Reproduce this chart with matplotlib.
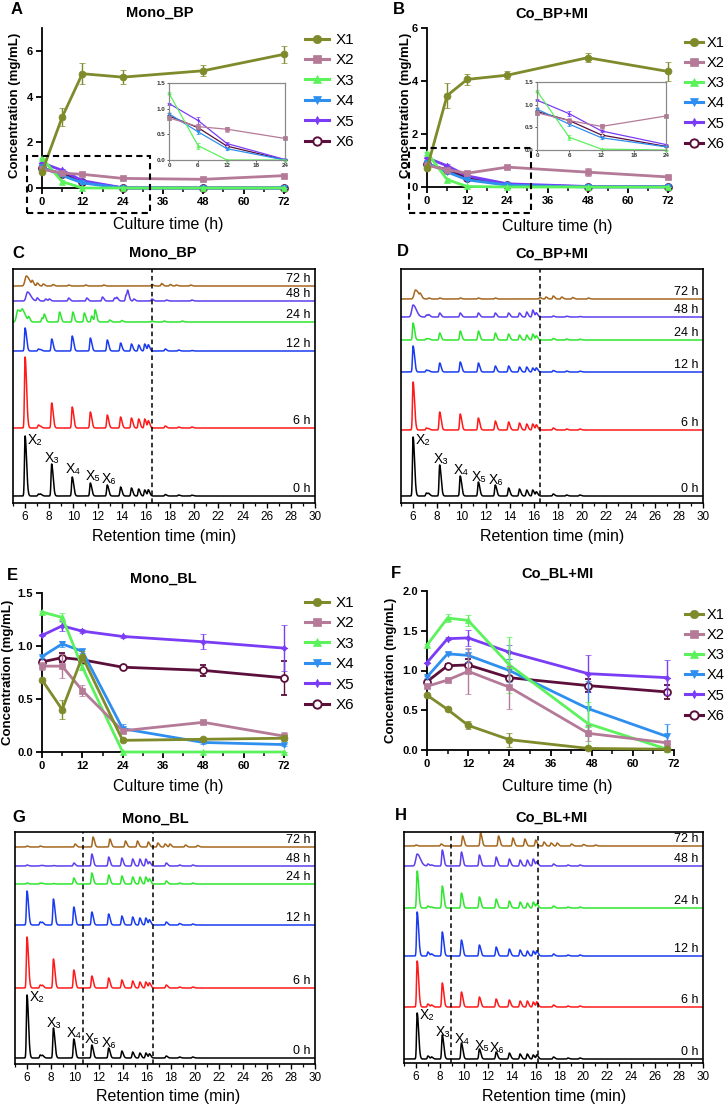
import numpy as np
import matplotlib
matplotlib.use('Agg')
import matplotlib.pyplot as plt
from matplotlib.patches import Rectangle
from matplotlib.lines import Line2D
from matplotlib.ticker import MultipleLocator, FormatStrFormatter

plt.rcParams['font.family'] = ['Liberation Sans', 'DejaVu Sans']

# ---------------- data ----------------
series = ['X1', 'X2', 'X3', 'X4', 'X5', 'X6']
colors = ['#7F8A2B', '#B47A98', '#5CF25C', '#2E8FF0', '#7A3CF5', '#5B0F3A']
markers = ['o', 's', '^', 'v', (4, 1, 0), 'o']

time_A = [0, 6, 12, 24, 48, 72]
A_X1 = [0.70, 3.10, 5.00, 4.85, 5.13, 5.85]
A_X2 = [0.82, 0.65, 0.60, 0.42, 0.38, 0.54]
A_X3 = [1.30, 0.28, 0.00, 0.00, 0.00, 0.00]
A_X4 = [0.90, 0.55, 0.22, 0.00, 0.00, 0.00]
A_X5 = [1.10, 0.77, 0.32, 0.01, 0.00, 0.00]
A_X6 = [0.86, 0.63, 0.27, 0.00, 0.00, 0.00]
A_X1_err = [0.05, 0.38, 0.47, 0.30, 0.24, 0.36]
A_X2_err = [0.04, 0.05, 0.05, 0.02, 0.02, 0.03]
A_X3_err = [0.02, 0.06, 0.00, 0.00, 0.00, 0.00]
A_X4_err = [0.02, 0.04, 0.03, 0.00, 0.00, 0.00]
A_X5_err = [0.02, 0.06, 0.04, 0.00, 0.00, 0.00]
A_X6_err = [0.02, 0.04, 0.03, 0.00, 0.00, 0.00]

time_B = [0, 6, 12, 24, 48, 72]
B_X1 = [0.70, 3.45, 4.06, 4.22, 4.88, 4.36]
B_X2 = [0.82, 0.65, 0.52, 0.75, 0.56, 0.38]
B_X3 = [1.30, 0.28, 0.02, 0.00, 0.00, 0.00]
B_X4 = [0.90, 0.57, 0.27, 0.07, 0.00, 0.00]
B_X5 = [1.10, 0.80, 0.42, 0.12, 0.02, 0.02]
B_X6 = [0.85, 0.65, 0.33, 0.08, 0.01, 0.01]
B_X1_err = [0.05, 0.47, 0.20, 0.15, 0.18, 0.35]
B_X2_err = [0.05, 0.05, 0.05, 0.03, 0.15, 0.05]
B_X3_err = [0.02, 0.06, 0.01, 0.00, 0.00, 0.00]
B_X4_err = [0.02, 0.04, 0.02, 0.01, 0.00, 0.00]
B_X5_err = [0.02, 0.05, 0.03, 0.01, 0.00, 0.00]
B_X6_err = [0.02, 0.04, 0.02, 0.01, 0.00, 0.00]

time_E = [0, 6, 12, 24, 48, 72]
E_X1 = [0.68, 0.40, 0.90, 0.11, 0.12, 0.13]
E_X2 = [0.81, 0.81, 0.58, 0.20, 0.28, 0.15]
E_X3 = [1.32, 1.27, 0.80, 0.00, 0.00, 0.00]
E_X4 = [0.90, 1.02, 0.95, 0.22, 0.09, 0.07]
E_X5 = [1.10, 1.19, 1.14, 1.09, 1.04, 0.98]
E_X6 = [0.85, 0.89, 0.87, 0.80, 0.77, 0.70]
E_X1_err = [0.02, 0.09, 0.05, 0.01, 0.01, 0.03]
E_X2_err = [0.04, 0.11, 0.05, 0.02, 0.02, 0.04]
E_X3_err = [0.01, 0.04, 0.03, 0.00, 0.00, 0.00]
E_X4_err = [0.01, 0.03, 0.02, 0.04, 0.01, 0.01]
E_X5_err = [0.01, 0.05, 0.02, 0.01, 0.07, 0.22]
E_X6_err = [0.02, 0.04, 0.02, 0.01, 0.05, 0.16]

time_F = [0, 6, 12, 24, 47, 70]
F_X1 = [0.69, 0.51, 0.31, 0.13, 0.02, 0.01]
F_X2 = [0.80, 0.88, 0.99, 0.79, 0.21, 0.09]
F_X3 = [1.32, 1.66, 1.63, 1.07, 0.33, 0.01]
F_X4 = [0.92, 1.21, 1.19, 1.00, 0.52, 0.17]
F_X5 = [1.10, 1.40, 1.41, 1.23, 0.96, 0.91]
F_X6 = [0.86, 1.06, 1.07, 0.91, 0.81, 0.73]
F_X1_err = [0.01, 0.01, 0.05, 0.09, 0.01, 0.01]
F_X2_err = [0.02, 0.03, 0.29, 0.27, 0.10, 0.02]
F_X3_err = [0.01, 0.05, 0.07, 0.35, 0.28, 0.01]
F_X4_err = [0.01, 0.02, 0.08, 0.15, 0.35, 0.16]
F_X5_err = [0.01, 0.02, 0.10, 0.09, 0.23, 0.22]
F_X6_err = [0.01, 0.02, 0.07, 0.02, 0.08, 0.09]

# chromatograms: peak retention times (min) and heights (px-scaled signal)
trace_names = ['0 h', '6 h', '12 h', '24 h', '48 h', '72 h']
trace_colors = ['#000000', '#FF1A1A', '#1A3CF0', '#2EE62E', '#5B3FF0', '#A5671E']
rt_std = [6.0, 7.1, 7.3, 8.2, 9.9, 11.4, 12.8, 13.9, 14.8, 15.4, 15.9, 16.2, 17.6, 18.7, 19.8]
rt_H = [6.1, 7.0, 7.3, 8.2, 9.8, 11.3, 12.7, 13.8, 14.7, 15.3, 15.8, 16.1, 17.5, 18.7, 19.7]

C_0h = [60, 2, 1.5, 32, 19, 13, 11, 9, 8, 7, 6, 6, 1.5, 1, 0.8]
C_6h = [71, 3, 1, 25, 21, 16, 13, 11, 10, 9, 9, 7, 2, 1, 1]
C_12h = [23, 2, 1, 12, 15, 13, 11, 8, 7, 6, 7, 6, 2, 1, 0.5]
C_24h_rt = [5.4, 5.8, 6.3, 7.4, 7.6, 8.85, 9.95, 10.9, 11.5, 11.8, 13.0, 14.0, 16.5, 17.5, 19.0]
C_24h = [12, 9, 4, 4, 7, 10, 10, 9, 6, 12, 2, 1.5, 1, 1, 1]
C_48h_rt = [6.2, 7.0, 7.7, 8.0, 9.6, 11.1, 12.4, 13.4, 13.6, 14.35, 14.5, 15.0, 16.5, 17.7, 19.8]
C_48h = [9, 3, 2, 2, 3, 3, 4, 3, 3, 6, 8, 2, 2, 1, 1]
C_72h_rt = [6.1, 6.6, 7.0, 7.5, 8.3, 9.6, 11.0, 12.5, 16.5, 17.3, 18.0, 18.5, 19.7]
C_72h = [10, 4, 3, 2, 1.5, 1, 1, 1, 1.5, 2.5, 1.5, 1, 1]

D_0h = [59, 3, 2, 31, 20, 14, 11, 8, 7, 6, 6, 4, 2, 1, 1]
D_6h = [48, 2, 1, 18, 16, 12, 9, 8, 7, 6, 6, 5, 2, 1, 1]
D_12h = [26, 2, 1, 9, 10, 9, 6, 6, 5, 5, 4, 4, 1.5, 1, 0.8]
D_24h = [17, 1.5, 1, 7, 9, 9, 7, 6, 5, 5, 6, 4, 1.5, 1, 0.8]
D_48h = [12, 2, 2, 4, 4, 4, 4, 4, 4, 5, 7, 4, 1, 0.8, 0.5]
D_72h_rt = [6.2, 6.6, 7.3, 8.2, 9.9, 11.4, 12.8, 16.5, 17.0, 17.6, 18.3, 19.2, 20.5]
D_72h = [9, 3, 1, 1, 1, 1, 1, 1.5, 2, 3, 2, 1.5, 1]

G_0h = [63, 3, 2, 30, 19, 13, 10, 7, 6, 5, 5, 4, 2, 1, 1]
G_6h = [51, 3, 2, 29, 18, 12, 10, 8, 7, 6, 6, 5, 3, 1, 1]
G_12h = [34, 3, 2, 26, 18, 13, 11, 9, 8, 7, 7, 5, 3, 1.5, 1]
G_24h = [1, 1, 0.5, 0.5, 6, 11, 9, 8, 7, 7, 7, 5, 3, 1, 1]
G_48h = [1, 0.5, 0.5, 0.5, 3, 12, 9, 8, 7, 7, 7, 4, 3, 1, 1]
G_72h_rt = [6.0, 7.1, 10.0, 11.5, 12.9, 14.2, 15.2, 16.1, 16.9, 17.5, 17.9, 19.2, 20.2]
G_72h = [1, 1, 3, 10, 8, 6, 6, 5, 4, 3, 3, 2, 1.5]

H_0h = [46, 3, 2, 24, 16, 10, 7, 6, 5, 5, 4, 4, 2, 1, 1]
H_6h = [46, 3, 2, 24, 15, 10, 8, 7, 6, 6, 5, 5, 2, 1, 1]
H_12h = [44, 4, 2, 24, 16, 11, 9, 7, 6, 5, 5, 5, 2, 1, 1]
H_24h = [37, 2, 1, 22, 15, 11, 9, 7, 6, 5, 6, 4, 2, 1, 1]
H_48h = [12, 2, 1, 16, 14, 11, 9, 7, 6, 6, 7, 4, 2, 1, 1]
H_72h_rt = [6.0, 8.1, 9.9, 11.4, 12.9, 14.1, 15.1, 16.0, 16.7, 17.3, 17.8, 19.0, 20.0, 21.0]
H_72h = [1, 2, 10, 13, 10, 8, 7, 6, 4, 3, 3, 2, 1.5, 1]

peak_labels = ['X₂', 'X₃', 'X₄', 'X₅', 'X₆']

# ---------------- layout helpers ----------------
W, Hh = 728, 1109
fig = plt.figure(figsize=(W / 100, Hh / 100), dpi=100)


def rect(l, r, t, b):
    return [l / W, 1 - b / Hh, (r - l) / W, (b - t) / Hh]


def ftext(x, y, s, **kw):
    fig.text(x / W, 1 - y / Hh, s, **kw)


def conc_panel(r, t, data, errs, ylim, yticks, yfmt, legend_xy, lfs=11, hl=1.6, htp=0.4):
    ax = fig.add_axes(r)
    order = [5, 4, 3, 2, 1, 0]
    for i in order:
        c = ax.errorbar(t, data[i], yerr=errs[i], color=colors[i], marker=markers[i],
                        ms=5, lw=2.0, elinewidth=1.0, capsize=2.5, capthick=1.0,
                        mfc='white' if i == 5 else colors[i], mew=1.3 if i == 5 else 0.5,
                        zorder=3 + (5 - i))
        for art in c.get_children():
            art.set_clip_on(False)
    ax.set_xlim(0, 72)
    ax.set_ylim(*ylim)
    ax.set_xticks([0, 12, 24, 36, 48, 60, 72])
    ax.xaxis.set_minor_locator(MultipleLocator(6))
    ax.set_yticks(yticks)
    ax.yaxis.set_major_formatter(FormatStrFormatter(yfmt))
    for s in ['top', 'right']:
        ax.spines[s].set_visible(False)
    for s in ['left', 'bottom']:
        ax.spines[s].set_linewidth(1.3)
    ax.tick_params(axis='both', which='major', length=4.5, width=1.3, labelsize=8, pad=2)
    ax.tick_params(axis='x', which='minor', length=3, width=1.1)
    for lab in ax.get_xticklabels() + ax.get_yticklabels():
        lab.set_fontweight('bold')
    handles = [Line2D([0], [0], color=colors[i], marker=markers[i], lw=2.2, ms=6,
                      mfc='white' if i == 5 else colors[i], mew=1.4 if i == 5 else 0.5)
               for i in range(6)]
    fig.legend(handles, series, loc='upper left',
               bbox_to_anchor=(legend_xy[0] / W, 1 - legend_xy[1] / Hh),
               frameon=False, fontsize=lfs, handlelength=hl, handletextpad=htp,
               labelspacing=0.42, borderpad=0, borderaxespad=0)
    return ax


def inset(r, t, data, errs):
    ax = fig.add_axes(r)
    for i in [5, 4, 3, 2, 1]:
        c = ax.errorbar(t[:4], data[i][:4], yerr=errs[i][:4], color=colors[i],
                        marker=markers[i], ms=2.2, lw=0.9, elinewidth=0.6, capsize=1.2,
                        capthick=0.6, mfc='white' if i == 5 else colors[i], mew=0.5)
        for art in c.get_children():
            art.set_clip_on(False)
    ax.set_xlim(0, 24)
    ax.set_ylim(0, 1.5)
    ax.set_xticks([0, 6, 12, 18, 24])
    ax.set_yticks([0, 0.5, 1.0, 1.5])
    ax.yaxis.set_major_formatter(FormatStrFormatter('%.1f'))
    for s in ax.spines.values():
        s.set_color('#8a8a8a')
        s.set_linewidth(0.9)
    ax.tick_params(axis='both', length=1.5, width=0.6, labelsize=4.5, pad=1, colors='#333333')
    for lab in ax.get_xticklabels() + ax.get_yticklabels():
        lab.set_fontweight('bold')
    return ax


def make_trace(x, rts, hs, base):
    y = np.full_like(x, base, dtype=float)
    for rt, h in zip(rts, hs):
        wide = 2.2 if (h >= 8 and rt < 6.4 and h < 15) else 1.0
        sl, sr = 0.05 * wide, 0.12 * wide
        s = np.where(x < rt, sl, sr)
        y += h * np.exp(-0.5 * ((x - rt) / s) ** 2)
    return y


def chrom_panel(r, height, bases, traces, dashes, label_pos):
    ax = fig.add_axes(r)
    x = np.linspace(5, 30, 3000)
    for k in range(6):
        rts, hs = traces[k]
        ax.plot(x, make_trace(x, rts, hs, bases[k]), color=trace_colors[k], lw=1.1)
        ax.text(29.65, bases[k] + 0.8, trace_names[k], ha='right', va='bottom', fontsize=9)
    for d in dashes:
        ax.axvline(d, color='black', ls=(0, (3, 2.2)), lw=1.1)
    for lab, (lx, ly, ha) in zip(peak_labels, label_pos):
        ax.text(lx, ly, lab, ha=ha, va='center', fontsize=10)
    ax.set_xlim(5, 30)
    ax.set_ylim(0, height)
    ax.set_yticks([])
    ax.set_xticks(range(6, 31, 2))
    ax.xaxis.set_minor_locator(MultipleLocator(1))
    ax.tick_params(axis='x', which='major', length=3.5, width=1.0, labelsize=8.5, pad=2)
    ax.tick_params(axis='x', which='minor', length=2, width=0.9)
    for s in ax.spines.values():
        s.set_linewidth(1.2)
    return ax


# ---------------- panel A ----------------
A_data = [A_X1, A_X2, A_X3, A_X4, A_X5, A_X6]
A_errs = [A_X1_err, A_X2_err, A_X3_err, A_X4_err, A_X5_err, A_X6_err]
conc_panel(rect(42, 284, 28, 188), time_A, A_data, A_errs, (0, 7), [0, 2, 4, 6], '%d', (305, 33))
inset(rect(169, 285, 83, 160), time_A, A_data, A_errs)
fig.add_artist(Rectangle((27 / W, 1 - 213 / Hh), 123 / W, 57 / Hh, transform=fig.transFigure,
                         fill=False, ls=(0, (3, 2)), lw=1.5, ec='black'))

# ---------------- panel B ----------------
B_data = [B_X1, B_X2, B_X3, B_X4, B_X5, B_X6]
B_errs = [B_X1_err, B_X2_err, B_X3_err, B_X4_err, B_X5_err, B_X6_err]
conc_panel(rect(427, 668, 28, 187), time_B, B_data, B_errs, (0, 6), [0, 2, 4, 6], '%d', (685, 36),
           lfs=10.5, hl=1.2, htp=0.3)
inset(rect(537, 666, 82, 150), time_B, B_data, B_errs)
fig.add_artist(Rectangle((409 / W, 1 - 213 / Hh), 122 / W, 65 / Hh, transform=fig.transFigure,
                         fill=False, ls=(0, (3, 2)), lw=1.5, ec='black'))

# ---------------- panel E ----------------
E_data = [E_X1, E_X2, E_X3, E_X4, E_X5, E_X6]
E_errs = [E_X1_err, E_X2_err, E_X3_err, E_X4_err, E_X5_err, E_X6_err]
conc_panel(rect(42, 284, 593, 752), time_E, E_data, E_errs, (0, 1.5), [0, 0.5, 1.0, 1.5], '%.1f',
           (305, 596))

# ---------------- panel F ----------------
F_data = [F_X1, F_X2, F_X3, F_X4, F_X5, F_X6]
F_errs = [F_X1_err, F_X2_err, F_X3_err, F_X4_err, F_X5_err, F_X6_err]
conc_panel(rect(427, 674, 591, 750), time_F, F_data, F_errs, (0, 2.0), [0, 0.5, 1.0, 1.5, 2.0], '%.1f',
           (685, 608), lfs=10.5, hl=1.2, htp=0.3)

# ---------------- chromatograms ----------------
chrom_panel(rect(13, 315, 269, 503), 234, [7, 75, 152, 181, 202, 217],
            [(rt_std, C_0h), (rt_std, C_6h), (rt_std, C_12h), (C_24h_rt, C_24h),
             (C_48h_rt, C_48h), (C_72h_rt, C_72h)],
            [16.5],
            [(6.2, 63, 'left'), (8.25, 45, 'center'), (9.95, 34, 'center'),
             (11.6, 27, 'center'), (12.95, 24, 'center')])

chrom_panel(rect(401, 703, 269, 503), 234, [7, 73, 131, 163, 186, 204],
            [(rt_std, D_0h), (rt_std, D_6h), (rt_std, D_12h), (rt_std, D_24h),
             (rt_std, D_48h), (D_72h_rt, D_72h)],
            [16.5],
            [(6.25, 63, 'left'), (8.3, 44, 'center'), (9.95, 33, 'center'),
             (11.5, 26, 'center'), (12.85, 23, 'center')])

chrom_panel(rect(15, 315, 832, 1064), 232, [6, 76, 139, 180, 198, 217],
            [(rt_std, G_0h), (rt_std, G_6h), (rt_std, G_12h), (rt_std, G_24h),
             (rt_std, G_48h), (G_72h_rt, G_72h)],
            [10.7, 16.5],
            [(6.2, 67, 'left'), (8.25, 41, 'center'), (9.95, 31, 'center'),
             (11.45, 25, 'center'), (12.85, 21, 'center')])

chrom_panel(rect(404, 703, 832, 1063), 231, [4, 56, 107, 155, 197, 217],
            [(rt_H, H_0h), (rt_H, H_6h), (rt_H, H_12h), (rt_H, H_24h),
             (rt_H, H_48h), (H_72h_rt, H_72h)],
            [8.9, 16.2],
            [(6.35, 48, 'left'), (8.3, 31, 'center'), (9.85, 24, 'center'),
             (11.5, 17, 'center'), (12.8, 15, 'center')])

# ---------------- texts ----------------
tkw = dict(fontsize=10.5, fontweight='bold', ha='center', va='center')
ftext(160, 13, 'Mono_BP', **tkw)
ftext(552, 14, 'Co_BP+MI', **tkw)
ftext(163, 253, 'Mono_BP', **tkw)
ftext(552, 254, 'Co_BP+MI', **tkw)
ftext(163, 579, 'Mono_BL', **tkw)
ftext(557, 574, 'Co_BL+MI', **tkw)
ftext(155, 819, 'Mono_BL', **tkw)
ftext(552, 818, 'Co_BL+MI', **tkw)

lkw = dict(fontsize=12, fontweight='bold', ha='center', va='center')
ftext(17, 9, 'A', **lkw)
ftext(399, 9, 'B', **lkw)
ftext(18, 253, 'C', **lkw)
ftext(403, 252, 'D', **lkw)
ftext(12, 575, 'E', **lkw)
ftext(396, 573, 'F', **lkw)
ftext(19, 818, 'G', **lkw)
ftext(401, 815, 'H', **lkw)

xkw = dict(fontsize=11.5, ha='center', va='center')
ftext(168, 225, 'Culture time (h)', **xkw)
ftext(557, 226, 'Culture time (h)', **xkw)
ftext(168, 786, 'Culture time (h)', **xkw)
ftext(557, 786, 'Culture time (h)', **xkw)
ftext(164, 536, 'Retention time (min)', **xkw)
ftext(552, 536, 'Retention time (min)', **xkw)
ftext(168, 1097, 'Retention time (min)', **xkw)
ftext(554, 1097, 'Retention time (min)', **xkw)

ykw = dict(fontsize=9.5, fontweight='bold', ha='center', va='center', rotation=90)
ftext(15, 105, 'Concentration (mg/mL)', **ykw)
ftext(406, 105, 'Concentration (mg/mL)', **ykw)
ftext(8, 672, 'Concentration (mg/mL)', **ykw)
ftext(391, 670, 'Concentration (mg/mL)', **ykw)

fig.savefig('out.png', dpi=100)
